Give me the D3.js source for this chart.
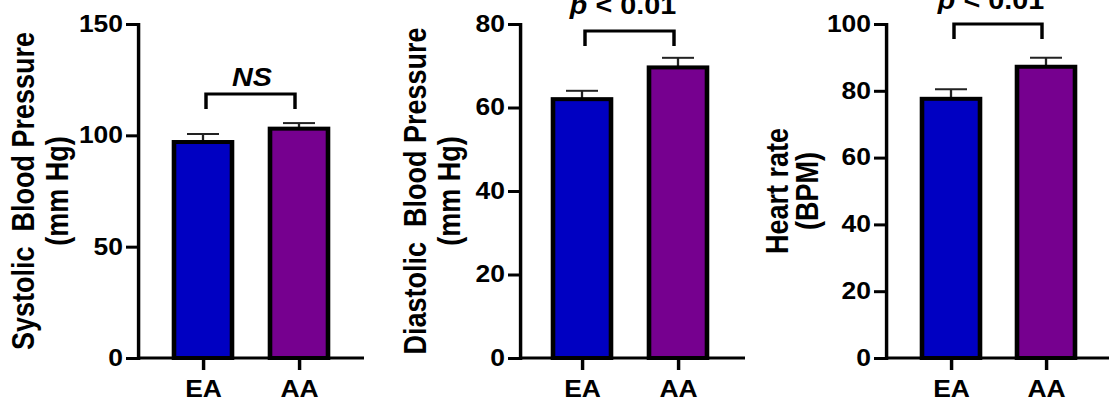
<!DOCTYPE html>
<html>
<head>
<meta charset="utf-8">
<script src="https://cdn.jsdelivr.net/npm/d3@7"></script>
<style>
  html, body { margin: 0; padding: 0; background: #fff; }
  text { font-family: "Liberation Sans", Arial, sans-serif; font-weight: bold; fill: #000; }
</style>
</head>
<body>
<div id="chart"></div>
<script>
// data
const groups = ["EA", "AA"];
const colors = ["#0000c2", "#76008f"];

const sbpMean = [97, 103];
const sbpSem = [3.6, 2.5];
const dbpMean = [62, 69.6];
const dbpSem = [2.0, 2.3];
const hrMean = [77.6, 87.2];
const hrSem = [2.9, 2.7];

const sbpTicks = [0, 50, 100, 150];
const dbpTicks = [0, 20, 40, 60, 80];
const hrTicks = [0, 20, 40, 60, 80, 100];

const titles = [
    ["Systolic  Blood Pressure", "(mm Hg)"],
    ["Diastolic  Blood Pressure", "(mm Hg)"],
    ["Heart rate", "(BPM)"]
];
const sigLabels = ["NS", "p < 0.01", "p < 0.01"];

// the picture is a bit wider than tall, so stretch everything horizontally
const W = 1109, H = 402, K = 1.15;
const sx = px => px / K;

const svg = d3.select('#chart')
    .append('svg')
    .attr('width', W)
    .attr('height', H)
    .attr('viewBox', `0 0 ${W / K} ${H}`)
    .attr('preserveAspectRatio', 'none');

const yTop = 24, yBottom = 358;

// layout of each panel in screen px
const panels = [
    { mean: sbpMean, sem: sbpSem, ticks: sbpTicks, axisX: 138, t0: 203, step: 96, end: 364, titleX: [34, 68], brY: 94, labY: 86, labX: 252 },
    { mean: dbpMean, sem: dbpSem, ticks: dbpTicks, axisX: 520, t0: 582, step: 96, end: 745, titleX: [426, 460], brY: 31, labY: 14, labX: 623 },
    { mean: hrMean, sem: hrSem, ticks: hrTicks, axisX: 886, t0: 951, step: 95, end: 1109, titleX: [788, 818], brY: 24, labY: 9, labX: 991 }
];

panels.forEach((p, pi) => {
    const g = svg.append('g');

    const y = d3.scaleLinear()
        .domain([0, d3.max(p.ticks)])
        .range([yBottom, yTop]);

    const x = d3.scalePoint()
        .domain(groups)
        .range([sx(p.t0), sx(p.t0 + p.step)]);

    // y axis
    const yAxis = d3.axisLeft(y)
        .tickValues(p.ticks)
        .tickSize(sx(12))
        .tickSizeOuter(0)
        .tickPadding(sx(3));

    const ya = g.append('g')
        .attr('transform', `translate(${sx(p.axisX)},0)`)
        .call(yAxis);
    ya.select('.domain').attr('stroke', '#000').attr('stroke-width', 3).attr('stroke-linecap', 'square');
    ya.selectAll('.tick line').attr('stroke', '#000').attr('stroke-width', 3);
    ya.selectAll('.tick text')
        .attr('font-family', null)
        .style('font-size', '23px');

    // x axis
    const xAxis = d3.axisBottom(x)
        .tickSize(12)
        .tickSizeOuter(0)
        .tickPadding(11);

    const xa = g.append('g')
        .attr('transform', `translate(0,${yBottom})`)
        .call(xAxis);
    xa.select('.domain').remove();
    xa.append('line')
        .attr('x1', sx(p.axisX))
        .attr('x2', sx(p.end))
        .attr('stroke', '#000')
        .attr('stroke-width', 3);
    xa.selectAll('.tick line').attr('stroke', '#000').attr('stroke-width', 3);
    xa.selectAll('.tick text')
        .attr('font-family', null)
        .style('font-size', '23px');

    const rows = groups.map((k, i) => ({ k: k, m: p.mean[i], e: p.sem[i], c: colors[i] }));

    // error bars (upper only), behind the bars
    const eb = g.append('g').attr('stroke', '#222').attr('stroke-width', 2);
    eb.selectAll('line.stem')
        .data(rows)
        .join('line')
        .attr('class', 'stem')
        .attr('x1', d => x(d.k))
        .attr('x2', d => x(d.k))
        .attr('y1', d => y(d.m))
        .attr('y2', d => y(d.m + d.e));
    eb.selectAll('line.cap')
        .data(rows)
        .join('line')
        .attr('class', 'cap')
        .attr('x1', d => x(d.k) - sx(16))
        .attr('x2', d => x(d.k) + sx(16))
        .attr('y1', d => y(d.m + d.e))
        .attr('y2', d => y(d.m + d.e));

    // bars
    g.append('g')
        .selectAll('rect')
        .data(rows)
        .join('rect')
        .attr('x', d => x(d.k) - sx(29))
        .attr('width', sx(58))
        .attr('y', d => y(d.m))
        .attr('height', d => y(0) - y(d.m))
        .attr('fill', d => d.c)
        .attr('stroke', '#000')
        .attr('stroke-width', 4);

    // significance bracket
    const bx0 = x(groups[0]) + sx(3), bx1 = x(groups[1]) - sx(4);
    g.append('path')
        .attr('d', `M${bx0},${p.brY + 15}V${p.brY}H${bx1}V${p.brY + 15}`)
        .attr('fill', 'none')
        .attr('stroke', '#000')
        .attr('stroke-width', 3);

    const lab = g.append('text')
        .attr('x', sx(p.labX))
        .attr('y', p.labY)
        .attr('text-anchor', 'middle')
        .style('font-size', '25px');
    if (sigLabels[pi] === 'NS') {
        lab.style('font-style', 'italic').text('NS');
    } else {
        lab.append('tspan').style('font-style', 'italic').text('p');
        lab.append('tspan').text(sigLabels[pi].slice(1));
    }

    // y axis title, two lines
    titles[pi].forEach((t, li) => {
        g.append('text')
            .attr('transform', `translate(${sx(p.titleX[li])},${(yTop + yBottom) / 2}) rotate(-90)`)
            .attr('text-anchor', 'middle')
            .style('font-size', '27px')
            .style('white-space', 'pre')
            .text(t);
    });
});
</script>
</body>
</html>
